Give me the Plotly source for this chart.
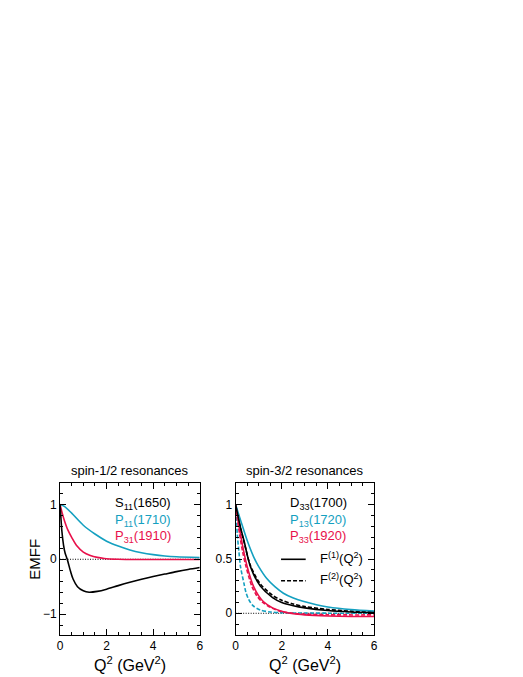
import plotly.graph_objects as go

# left panel: spin-1/2
s11_q2 = [0, 0.04, 0.08, 0.15, 0.22, 0.31, 0.45, 0.56, 0.75, 1.0, 1.25, 1.6, 2.0, 2.5, 3.0, 3.5, 4.0, 4.5, 5.0, 5.5, 6.0]
s11_f = [1, 0.74, 0.51, 0.26, 0.11, 0.0, -0.22, -0.36, -0.5, -0.575, -0.6, -0.585, -0.545, -0.48, -0.42, -0.365, -0.315, -0.27, -0.225, -0.185, -0.15]

p11_q2 = [0, 0.2, 0.5, 1.0, 1.5, 2.0, 2.5, 3.0, 3.5, 4.0, 4.5, 5.0, 6.0]
p11_f = [1, 0.96, 0.84, 0.62, 0.46, 0.33, 0.24, 0.17, 0.12, 0.085, 0.06, 0.045, 0.03]

p31_q2 = [0, 0.1, 0.2, 0.34, 0.5, 0.73, 1.0, 1.3, 1.6, 1.9, 2.5, 3.0, 4.0, 6.0]
p31_f = [1, 0.83, 0.69, 0.53, 0.4, 0.24, 0.13, 0.07, 0.035, 0.015, 0.0, -0.004, -0.005, -0.005]

# right panel: spin-3/2, F1 (solid) and F2 (dashed)
d33_q2 = [0, 0.2, 0.36, 0.64, 1.07, 1.6, 2.0, 2.5, 3.0, 4.0, 5.0, 6.0]
d33_f1 = [1, 0.8, 0.67, 0.43, 0.25, 0.145, 0.1, 0.07, 0.05, 0.025, 0.012, 0.006]
d33_f2 = [1, 0.79, 0.66, 0.44, 0.27, 0.165, 0.12, 0.085, 0.062, 0.035, 0.02, 0.012]

p13_q2 = [0, 0.21, 0.5, 0.78, 1.0, 1.35, 1.7, 2.07, 2.5, 2.92, 3.5, 4.0, 5.0, 6.0]
p13_f1 = [1, 0.86, 0.67, 0.52, 0.43, 0.32, 0.245, 0.185, 0.14, 0.11, 0.078, 0.058, 0.034, 0.02]
p13_f2_q2 = [0, 0.07, 0.14, 0.21, 0.36, 0.45, 0.57, 0.75, 1.07, 1.5, 2.0, 3.0, 4.0, 6.0]
p13_f2 = [1, 0.73, 0.57, 0.43, 0.275, 0.19, 0.125, 0.07, 0.03, 0.012, 0.005, 0.002, 0.001, 0.0]

p33_q2 = [0, 0.1, 0.21, 0.35, 0.5, 0.78, 1.0, 1.21, 1.6, 2.07, 2.5, 3.0, 4.0, 5.0, 6.0]
p33_f1 = [1, 0.86, 0.73, 0.57, 0.43, 0.245, 0.16, 0.106, 0.05, 0.015, -0.005, -0.015, -0.025, -0.03, -0.03]
p33_f2_q2 = [0, 0.08, 0.17, 0.3, 0.45, 0.7, 0.92, 1.15, 1.55, 2.0, 2.5, 3.0, 4.0, 6.0]
p33_f2 = [1, 0.86, 0.73, 0.57, 0.43, 0.25, 0.16, 0.105, 0.05, 0.015, 0.0, -0.008, -0.014, -0.015]

BLACK = "#000000"
CYAN = "#14a0c0"
RED = "#e8104a"
FONT = "Liberation Sans, Arial, sans-serif"

fig = go.Figure()

def add(x, y, color, dash="solid", axis=1):
    fig.add_trace(go.Scatter(
        x=x, y=y, mode="lines", line=dict(color=color, width=1.6, dash=dash, shape="spline", smoothing=0.8),
        xaxis="x" if axis == 1 else "x2", yaxis="y" if axis == 1 else "y2", showlegend=False,
        hoverinfo="skip"))

# zero reference lines
for xa, ya in (("x", "y"), ("x2", "y2")):
    fig.add_trace(go.Scatter(x=[0, 6], y=[0, 0], mode="lines",
                             line=dict(color="black", width=1, dash="1px,1.5px"),
                             xaxis=xa, yaxis=ya, showlegend=False, hoverinfo="skip"))

add(p11_q2, p11_f, CYAN)
add(p31_q2, p31_f, RED)
add(s11_q2, s11_f, BLACK)

DASH = "4px,2px"
add(p13_f2_q2, p13_f2, CYAN, DASH, 2)
add(p33_f2_q2, p33_f2, RED, DASH, 2)
add(d33_q2, d33_f2, BLACK, DASH, 2)
add(p13_q2, p13_f1, CYAN, "solid", 2)
add(p33_q2, p33_f1, RED, "solid", 2)
add(d33_q2, d33_f1, BLACK, "solid", 2)

W, H = 523, 677
OFF = 8  # page body margin
def px(x):
    return (x - OFF) / W
def py(y):
    return 1 - (y - OFF) / H

axis_common = dict(
    showgrid=False, zeroline=False, showline=True, linecolor="black", linewidth=1,
    mirror="allticks", ticks="inside", ticklen=6, tickcolor="black", tickwidth=1,
    tickfont=dict(family=FONT, size=12, color="black"),
)

fig.update_layout(
    width=W, height=H,
    margin=dict(l=0, r=0, t=0, b=0),
    paper_bgcolor="white", plot_bgcolor="white",
    font=dict(family=FONT, color="black"),
    xaxis=dict(domain=[px(57.7), px(199.3)], range=[0, 6], dtick=2, anchor="y",
               minor=dict(dtick=0.5, ticks="inside", ticklen=3, tickcolor="black"), **axis_common),
    yaxis=dict(domain=[py(635), py(483)], range=[-1.38, 1.39], dtick=1, anchor="x",
               minor=dict(dtick=0.2, ticks="inside", ticklen=3, tickcolor="black"), **axis_common),
    xaxis2=dict(domain=[px(235.7), px(376)], range=[0, 6], dtick=2, anchor="y2",
                minor=dict(dtick=0.5, ticks="inside", ticklen=3, tickcolor="black"), **axis_common),
    yaxis2=dict(domain=[py(635), py(483)], range=[-0.2, 1.2], dtick=0.5, anchor="x2",
                minor=dict(dtick=0.1, ticks="inside", ticklen=3, tickcolor="black"), **axis_common),
)

ann = []
def note(text, x, y, size, color=BLACK, xanchor="center", angle=0):
    ann.append(dict(text=text, x=px(x), y=py(y), xref="paper", yref="paper", xanchor=xanchor,
                    yanchor="middle", textangle=angle, showarrow=False,
                    font=dict(family=FONT, size=size, color=color)))

# panel titles
note("spin-1/2 resonances", 128.5, 470, 13)
note("spin-3/2 resonances", 306, 470, 13)
# axis titles
note("EMFF", 31, 559, 15, angle=-90)
note("Q<sup>2</sup> (GeV<sup>2</sup>)", 128.5, 664, 16)
note("Q<sup>2</sup> (GeV<sup>2</sup>)", 306, 664, 16)

# labels in panels
for txt, col, yy in [("S<sub>11</sub>(1650)", BLACK, 504), ("P<sub>11</sub>(1710)", CYAN, 520),
                     ("P<sub>31</sub>(1910)", RED, 536)]:
    note(txt, 111, yy, 13, col, "left")
for txt, col, yy in [("D<sub>33</sub>(1700)", BLACK, 504), ("P<sub>13</sub>(1720)", CYAN, 520),
                     ("P<sub>33</sub>(1920)", RED, 536)]:
    note(txt, 289, yy, 13, col, "left")
# line-style key
note("F<sup>(1)</sup>(Q<sup>2</sup>)", 319, 558, 13, BLACK, "left")
note("F<sup>(2)</sup>(Q<sup>2</sup>)", 319, 579, 13, BLACK, "left")
fig.update_layout(annotations=ann)

fig.add_shape(type="line", xref="paper", yref="paper", x0=px(281.7), x1=px(306.7), y0=py(559.3), y1=py(559.3),
              line=dict(color="black", width=1.6))
fig.add_shape(type="line", xref="paper", yref="paper", x0=px(281.7), x1=px(306.7), y0=py(580.7), y1=py(580.7),
              line=dict(color="black", width=1.6, dash=DASH))

fig.write_html("out.html")
